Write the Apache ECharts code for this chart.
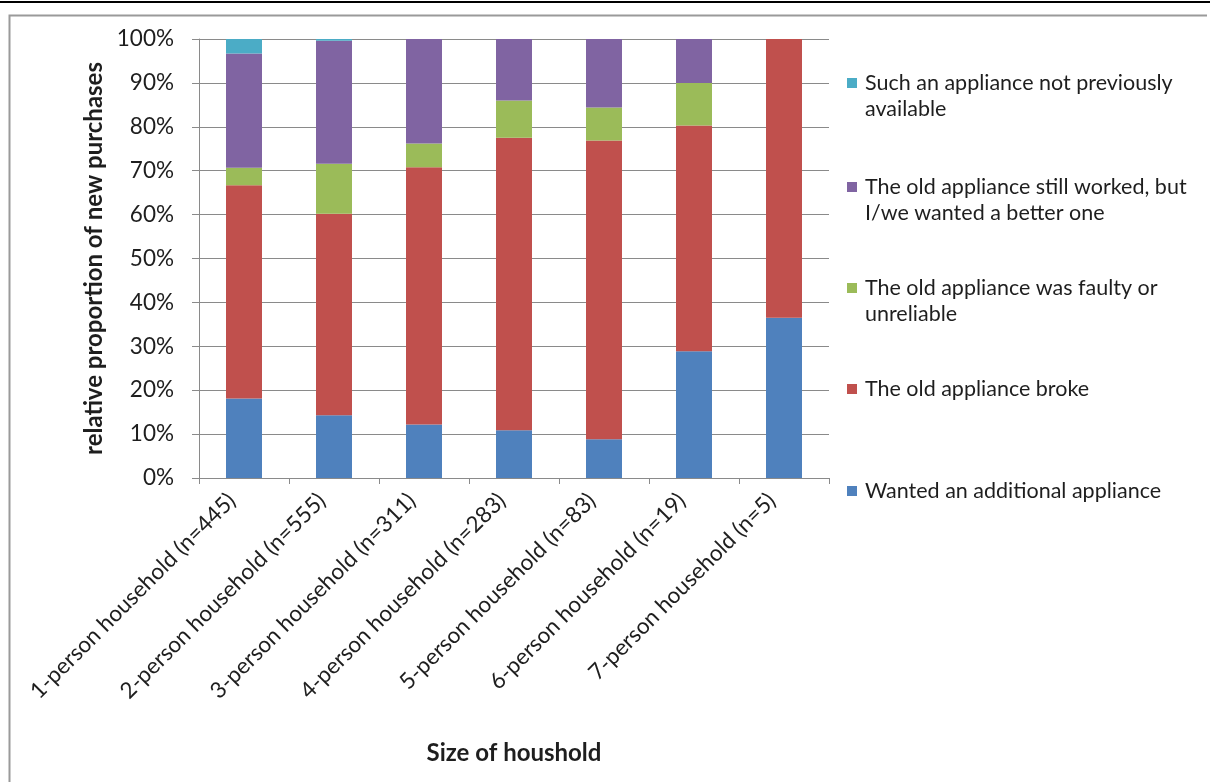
<!DOCTYPE html>
<html>
<head>
<meta charset="utf-8">
<script src="https://cdn.jsdelivr.net/npm/echarts@6/dist/echarts.min.js"></script>
<style>
  html, body { margin: 0; padding: 0; background: #ffffff; }
  #chart { width: 1210px; height: 782px; }
</style>
</head>
<body>
<div id="chart"></div>
<script>
// Household sizes (with sample size) along the x axis
const categories = [
  '1-person household (n=445)',
  '2-person household (n=555)',
  '3-person household (n=311)',
  '4-person household (n=283)',
  '5-person household (n=83)',
  '6-person household (n=19)',
  '7-person household (n=5)'
];

// Share of new purchases by reason, in percent
const wantedAdditional = [18.1, 14.3, 12.2, 10.9, 8.8, 28.9, 36.5];
const oldBroke         = [48.6, 45.9, 58.6, 66.6, 68.1, 51.4, 63.5];
const oldFaulty        = [4.0, 11.4, 5.4, 8.5, 7.5, 9.7, 0];
const wantedBetter     = [26.0, 28.0, 23.8, 14.0, 15.6, 10.0, 0];
const notAvailable     = [3.3, 0.4, 0, 0, 0, 0, 0];

const yTicks = [0, 10, 20, 30, 40, 50, 60, 70, 80, 90, 100];

const seriesNames = [
  'Wanted an additional appliance',
  'The old appliance broke',
  'The old appliance was faulty or unreliable',
  'The old appliance still worked, but I/we wanted a better one',
  'Such an appliance not previously available'
];
const seriesData = [wantedAdditional, oldBroke, oldFaulty, wantedBetter, notAvailable];
const colors = ['#4F81BD', '#C0504D', '#9BBB59', '#8064A2', '#4BACC6'];

// Legend labels wrapped the way they appear next to the plot
const legendLines = {
  'Wanted an additional appliance': 'Wanted an additional appliance',
  'The old appliance broke': 'The old appliance broke',
  'The old appliance was faulty or unreliable': 'The old appliance was faulty or\nunreliable',
  'The old appliance still worked, but I/we wanted a better one': 'The old appliance still worked, but\nI/we wanted a better one',
  'Such an appliance not previously available': 'Such an appliance not previously\navailable'
};

const FONT = 'Lato';
const TEXT = '#1E1E1E';
const GRID_LINE = '#8A8A8A';

// One legend block per series so each can sit at its own height
const legendTops = [478, 376, 275, 174, 70];
const twoLine = [false, false, true, true, true];
// square drawn at the top of a taller box so it lines up with the first text line
const SQUARE_TOP = 'path://M0,0L10,0L10,10L0,10Z M0,36';

const legends = seriesNames.map((name, i) => ({
  data: [name],
  left: 847,
  top: legendTops[i],
  orient: 'vertical',
  icon: twoLine[i] ? SQUARE_TOP : 'rect',
  itemWidth: 10,
  itemHeight: twoLine[i] ? 36 : 10,
  itemGap: 0,
  padding: 0,
  selectedMode: false,
  formatter: n => legendLines[n],
  textStyle: {
    fontFamily: FONT,
    fontSize: 21.5,
    color: TEXT,
    lineHeight: 26,
    padding: [0, 0, 0, 3]
  }
}));

const chart = echarts.init(document.getElementById('chart'), null, { renderer: 'canvas' });

chart.setOption({
  animation: false,
  backgroundColor: '#ffffff',
  color: colors,
  textStyle: { fontFamily: FONT },
  graphic: [
    { type: 'rect', shape: { x: 0, y: 1, width: 1210, height: 2 }, style: { fill: '#000000' }, silent: true },
    { type: 'polyline', shape: { points: [[9.5, 782], [9.5, 15.5], [1207, 15.5]] },
      style: { stroke: '#9A9A9A', lineWidth: 2, fill: null }, silent: true }
  ],
  legend: legends,
  grid: { left: 199, right: 381, top: 39, bottom: 304, containLabel: false },
  xAxis: {
    type: 'category',
    data: categories,
    name: 'Size of houshold',
    nameLocation: 'middle',
    nameGap: 263,
    nameTextStyle: { fontFamily: FONT, fontSize: 24, fontWeight: 'bold', color: TEXT },
    axisLine: { lineStyle: { color: GRID_LINE, width: 1 } },
    axisTick: { show: true, length: 6, lineStyle: { color: GRID_LINE } },
    axisLabel: {
      rotate: 45, margin: 7, fontFamily: FONT, fontSize: 22.5, color: TEXT, interval: 0,
      padding: [0, 17, 0, 0]
    }
  },
  yAxis: {
    type: 'value',
    min: 0,
    max: 100,
    interval: 10,
    name: 'relative proportion of new purchases',
    nameLocation: 'middle',
    nameGap: 93,
    nameTextStyle: { fontFamily: FONT, fontSize: 24, fontWeight: 'bold', color: TEXT },
    axisLine: { show: true, lineStyle: { color: GRID_LINE, width: 1 } },
    axisTick: { show: true, length: 7, inside: false, lineStyle: { color: GRID_LINE } },
    splitLine: { show: true, lineStyle: { color: GRID_LINE, width: 1 } },
    axisLabel: {
      margin: 25,
      fontFamily: FONT,
      fontSize: 22.5,
      color: TEXT,
      formatter: v => (yTicks.indexOf(v) >= 0 ? v + '%' : '')
    }
  },
  series: seriesNames.map((name, i) => ({
    name: name,
    type: 'bar',
    stack: 'total',
    barWidth: '40%',
    data: seriesData[i],
    itemStyle: { color: colors[i] }
  }))
});
</script>
</body>
</html>
